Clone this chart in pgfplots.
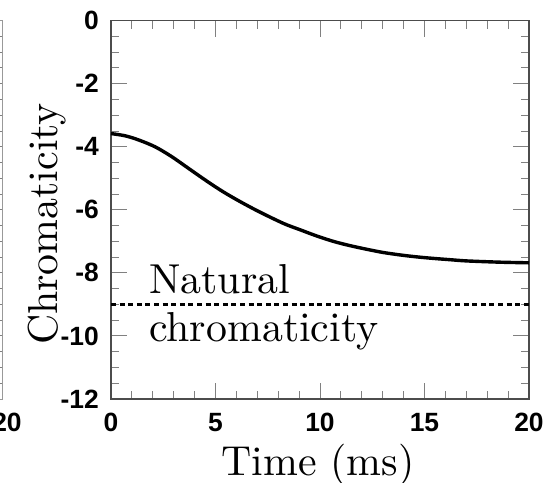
\documentclass[border=0pt]{standalone}
\usepackage{fontspec}
\setsansfont{Liberation Sans}
\newfontfamily\lmten{lmroman10-regular.otf}
\usepackage{pgfplots}
\pgfplotsset{compat=1.18}
\begin{document}
\begin{tikzpicture}[x=1bp,y=1bp]
\pgfplotsset{
  myaxis/.style={
    scale only axis,
    width=418bp, height=378.3bp,
    xmin=0, xmax=20, ymin=-12, ymax=0,
    xtick={0,5,10,15,20},
    ytick={-12,-10,-8,-6,-4,-2,0},
    minor xtick={1,2,3,4,6,7,8,9,11,12,13,14,16,17,18,19},
    minor ytick={-11.5,-11,-10.5,-9.5,-9,-8.5,-7.5,-7,-6.5,-5.5,-5,-4.5,-3.5,-3,-2.5,-1.5,-1,-0.5},
    tick align=inside,
    major tick length=16bp,
    minor tick length=8bp,
    axis line style={black!70, line width=1.6bp},
    every tick/.style={gray, line width=1bp},
    /pgf/number format/assume math mode=true,
    tick label style={font=\fontsize{26.5}{26.5}\selectfont\sffamily\bfseries, inner sep=0pt},
    xticklabel style={yshift=-14bp},
    yticklabel style={xshift=-12bp},
  }
}
% neighbouring panel (only its right edge is visible)
\begin{axis}[myaxis, at={(2bp,84bp)}, anchor=south east,
  xticklabels={0,5,10,15,20}, yticklabels={}, axis line style={gray!80, line width=1bp},
  xticklabel style={xshift=5bp}]
\end{axis}
\begin{axis}[myaxis, at={(111bp,84bp)}, anchor=south west,
  xticklabels={0,5,10,15,20},
  yticklabels={-12,-10,-8,-6,-4,-2,0},
  xlabel={Time (ms)},
  ylabel={Chromaticity},
  label style={font=\lmten\fontsize{42}{48}\selectfont},
  xlabel style={anchor=base, at={(axis description cs:0.495,-0.2035)}},
  ylabel style={anchor=base, at={(axis description cs:-0.1268,0.4626)}},
  clip=false]
\addplot[black, line width=3.4bp, smooth, tension=0.5] coordinates {
(0,-3.58) (0.67,-3.65) (1.31,-3.78) (2.11,-4.0) (2.9,-4.31) (3.7,-4.68) (4.5,-5.05)
(5.3,-5.40) (6.1,-5.71) (7.06,-6.05) (8.25,-6.43) (9.04,-6.63)
(9.85,-6.83) (10.64,-7.00) (11.4,-7.13) (12.23,-7.25) (13.0,-7.35) (13.83,-7.43)
(14.6,-7.49) (15.42,-7.54) (16.2,-7.58) (17.02,-7.62) (18.6,-7.66) (20,-7.68)};
\addplot[black, line width=2.8bp, dash pattern=on 5bp off 3.6bp] coordinates {(0,-9) (20,-9)};
\node[anchor=base west, inner sep=0pt, font=\lmten\fontsize{42}{48}\selectfont] at (axis cs:1.82,-8.64) {Natural};
\node[anchor=base west, inner sep=0pt, font=\lmten\fontsize{42}{48}\selectfont] at (axis cs:1.82,-10.17) {chromaticity};
\end{axis}
\pgfresetboundingbox
\path[use as bounding box] (0,0) rectangle (560bp,483bp);
\end{tikzpicture}
\end{document}
